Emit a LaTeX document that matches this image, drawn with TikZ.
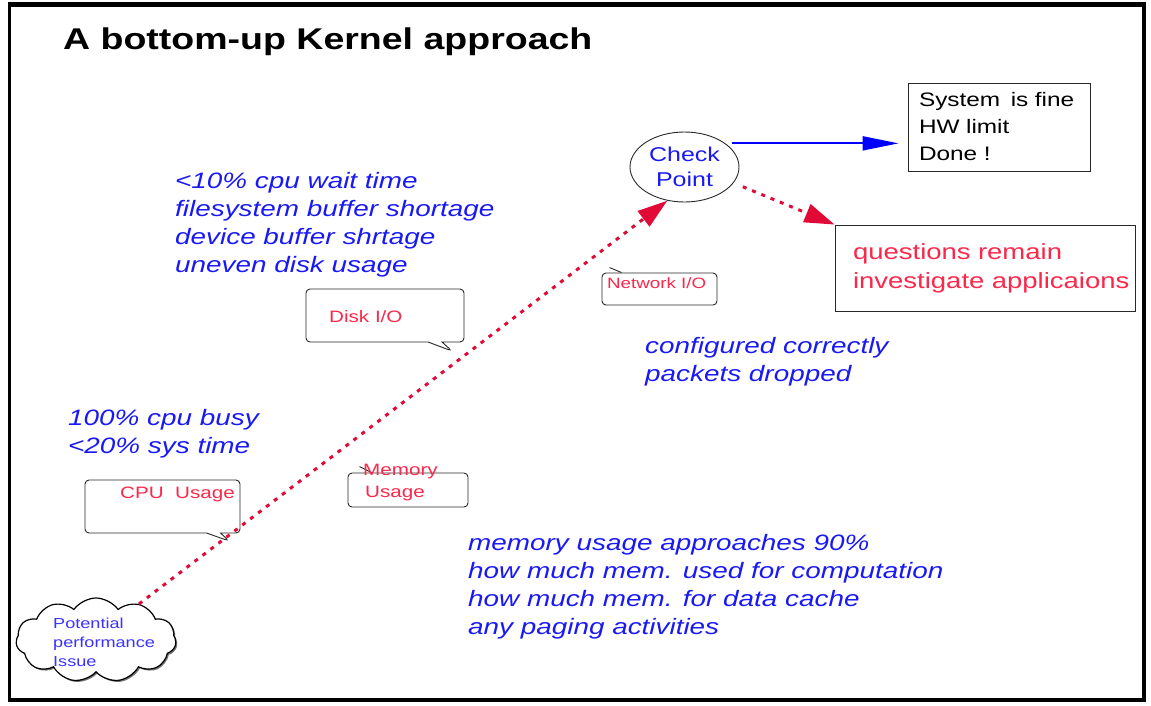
\documentclass[tikz,border=0pt]{standalone}
\usepackage{fontspec}
\setmainfont{Liberation Sans}[FakeStretch=1.25]
\usetikzlibrary{shapes.geometric,shapes.symbols,shapes.callouts,arrows.meta,shadows}
\definecolor{txtblue}{RGB}{25,25,245}
\definecolor{cloudblue}{RGB}{60,50,255}
\definecolor{txtred}{RGB}{250,40,75}
\definecolor{arrred}{RGB}{225,10,55}
\definecolor{linegray}{RGB}{40,40,40}
\tikzset{
  note/.style={font=\fontsize{22.3}{28}\selectfont\itshape, text=txtblue, align=left, anchor=north west, inner sep=0pt},
  redlbl/.style={text=txtred, inner sep=0pt},
  callbox/.style={rectangle callout, draw=linegray, line width=0.9pt, rounded corners=4pt, callout pointer width=14pt, inner sep=0pt},
  freebox/.style={rectangle, draw=linegray, line width=0.9pt, rounded corners=4pt, inner sep=0pt},
  plainbox/.style={rectangle, draw=linegray, line width=0.9pt, align=left, inner ysep=0pt},
  reddot/.style={draw=arrred, line width=3pt, dash pattern=on 4pt off 6pt, -{Triangle[length=30pt,width=19pt]}},
  blueline/.style={draw=blue, line width=2pt, -{Triangle[length=36pt,width=14pt]}}
}
\begin{document}
\begin{tikzpicture}[x=1pt,y=-1pt]
\useasboundingbox (0,0) rectangle (1151,705);
% frame
\draw[line width=3.5pt] (9.5,5) rectangle (1144,700);
\draw[line width=5pt] (7.75,4.5) -- (1145.75,4.5);
% title
\node[anchor=base west, inner sep=0pt, font=\fontsize{30}{36}\selectfont\bfseries] (title) at (63,49.5) {A bottom-up Kernel approach};
% cloud
\node[cloud, cloud puffs=11, cloud puff arc=110, aspect=1.9, draw=black, line width=1.2pt, fill=white,
      minimum width=160pt, minimum height=84pt, inner sep=0pt,
      drop shadow={shadow xshift=1.5pt, shadow yshift=-1.5pt, fill=black!55, opacity=1}] (issue) at (96,640) {};
\node[font=\fontsize{14.5}{19}\selectfont, text=cloudblue, align=left, anchor=north west, inner sep=0pt] (issuetxt) at (53,617.5) {Potential\\performance\\Issue};
% CPU callout
\node[callbox, minimum width=155pt, minimum height=53pt, callout absolute pointer={(229,541)}] (cpu) at (162.5,506.5) {};
\node[redlbl, anchor=base west, font=\fontsize{16.5}{20}\selectfont] (cputxt) at (120,498) {CPU\ \ Usage};
\node[note] (cpunote) at (68,409) {100\% cpu busy\\<20\% sys time};
% Disk callout
\node[callbox, minimum width=158pt, minimum height=53pt, callout absolute pointer={(452,351)}] (disk) at (385,315.5) {};
\node[redlbl, anchor=base west, font=\fontsize{16.5}{20}\selectfont] (disktxt) at (329,322) {Disk I/O};
\node[note] (disknote) at (175,172) {<10\% cpu wait time\\filesystem buffer shortage\\device buffer shrtage\\uneven disk usage};
% Memory
\node[freebox, minimum width=120pt, minimum height=34pt] (mem) at (408,490) {};
\draw[linegray, line width=0.9pt] (mem.north west) ++(12,-6) -- ++(12,6);
\node[redlbl, anchor=north west, align=left, font=\fontsize{16.5}{22}\selectfont] (memtxt) at (363,464) {Memory\\\hspace*{2pt}Usage};
\node[note] (memnote) at (468,534) {memory usage approaches 90\%\\how much mem. used for computation\\how much mem. for data cache\\any paging activities};
% Network
\node[freebox, minimum width=115pt, minimum height=32pt] (net) at (659.5,289) {};
\draw[linegray, line width=0.9pt] (net.north west) ++(8,-5) -- ++(12,5);
\node[redlbl, anchor=base west, font=\fontsize{15}{18}\selectfont] (nettxt) at (607,288) {Network I/O};
\node[note] (netnote) at (645,337) {configured correctly\\packets dropped};
% Check point
\node[ellipse, draw=linegray, line width=0.9pt, minimum width=109pt, minimum height=70pt, inner sep=0pt,
      font=\fontsize{20}{25}\selectfont, text=txtblue, align=center] (check) at (684.5,167) {Check\\Point};
% result boxes
\node[plainbox, minimum width=182pt, minimum height=88pt, text width=160pt, inner xsep=11pt,
      font=\fontsize{19.5}{27}\selectfont] (sys) at (999,127) {System\hspace{4pt} is fine\\HW limit\\Done !};
\node[plainbox, minimum width=300pt, minimum height=86pt, text width=264pt, inner xsep=18pt,
      font=\fontsize{22}{29}\selectfont, text=txtred] (quest) at (985,268) {\mbox{questions remain}\\\mbox{investigate applicaions}};
% connectors
\draw[reddot] (issue.40) -- (check.243);
\draw[reddot, shorten <=10pt] (check.-18) -- (quest.north west);
\draw[blueline, shorten <=7pt, shorten >=9pt] (check.30) -- (check.30 -| sys.west);
\end{tikzpicture}
\end{document}
